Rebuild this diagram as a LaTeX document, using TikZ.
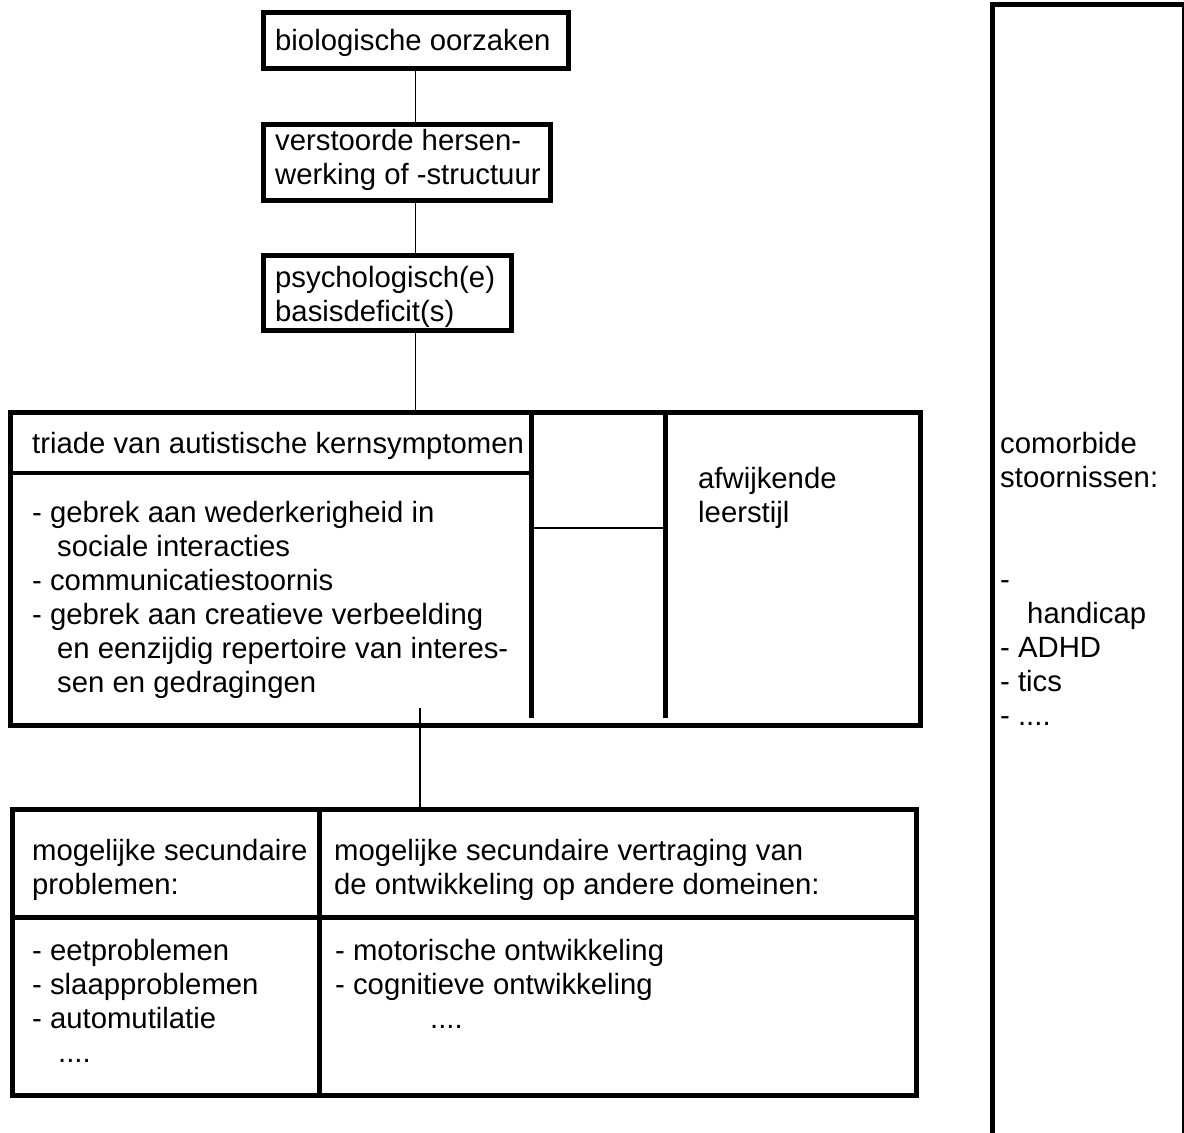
\documentclass[tikz,border=0pt]{standalone}
\usepackage{fontspec}
\setmainfont{Liberation Sans}

\begin{document}
\begin{tikzpicture}[x=1pt,y=-1pt,
                box/.style={draw,rectangle,line width=5pt,inner sep=0pt},
                conn/.style={line width=1.5pt},
                txt/.style={anchor=base west,inner sep=0pt,align=left,
                            font=\fontsize{29.3pt}{34pt}\selectfont}]
  \path[use as bounding box,clip] (0,0) rectangle (1184,1133);
  % boxes
  \node[box,minimum width=305pt,minimum height=56pt]    (bio)    at (415.5,40)     {};
  \node[box,minimum width=287pt,minimum height=75.5pt]  (hersen) at (406.5,162.25) {};
  \node[box,minimum width=248pt,minimum height=75pt]    (psy)    at (387,293)      {};
  \node[box,minimum width=910.5pt,minimum height=312.5pt] (triade) at (465.25,568.75) {};
  \node[box,minimum width=903.5pt,minimum height=286pt] (sec)    at (464.25,952.5) {};
  \node[box,minimum width=191.5pt,minimum height=1140pt] (comorb) at (1088.25,574.5) {};
  % inner lines
  \draw[line width=4pt]   (10,472.5) -- (531,472.5);
  \draw[line width=5pt]   (531,412.5) -- (531,718);
  \draw[line width=5pt]   (665.5,412.5) -- (665.5,718);
  \draw[line width=2.5pt] (531,528) -- (665.5,528);
  \draw[line width=5pt]   (319.5,809.5) -- (319.5,1095.5);
  \draw[line width=5pt]   (12.5,917.5) -- (916,917.5);
  % connectors
  \draw[conn] (bio.south) -- (bio.south |- hersen.north);
  \draw[conn] (bio.south |- hersen.south) -- (bio.south |- psy.north);
  \draw[conn] (bio.south |- psy.south) -- (bio.south |- triade.north);
  \coordinate (tail) at (420,708);
  \draw[conn] (tail) -- (tail |- sec.north);
  % texts (placed at the baseline of their last line)
  \node[txt] (tbio)    at (275,50)  {biologische oorzaken};
  \node[txt] (thersen) at (275,184) {verstoorde hersen-\\werking of -structuur};
  \node[txt] (tpsy)    at (275,321) {psychologisch(e)\\basisdeficit(s)};
  \node[txt] (ttriade) at (32,453)  {triade van autistische kernsymptomen};
  \node[txt] (tkern)   at (32,692)  {- gebrek aan wederkerigheid in\\\hspace*{25pt}sociale interacties\\- communicatiestoornis\\- gebrek aan creatieve verbeelding\\\hspace*{25pt}en eenzijdig repertoire van interes-\\\hspace*{25pt}sen en gedragingen};
  \node[txt] (tstijl)  at (698,522) {afwijkende\\leerstijl};
  \node[txt] (tcomorb) at (1000,725) {comorbide\\stoornissen:\\\mbox{}\\\mbox{}\\-\\\hspace*{27pt}handicap\\- ADHD\\- tics\\- ....};
  \node[txt] (tsecp)   at (32,894)  {mogelijke secundaire\\problemen:};
  \node[txt] (tsecv)   at (334,894) {mogelijke secundaire vertraging van\\de ontwikkeling op andere domeinen:};
  \node[txt] (tprob)   at (32,1062) {- eetproblemen\\- slaapproblemen\\- automutilatie\\\hspace*{26pt}....};
  \node[txt] (tontw)   at (335,1028) {- motorische ontwikkeling\\- cognitieve ontwikkeling\\\hspace*{95pt}....};
\end{tikzpicture}
\end{document}
